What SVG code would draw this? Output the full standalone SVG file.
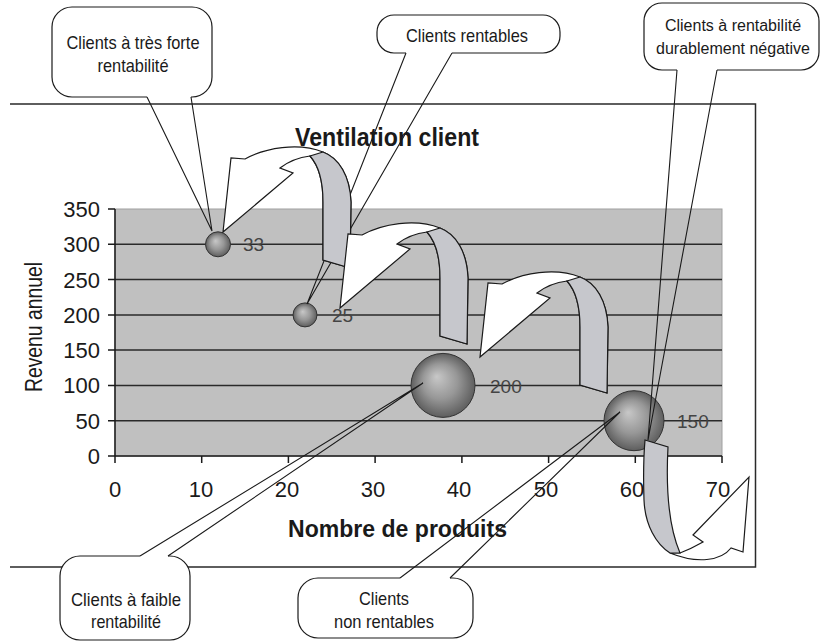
<svg xmlns="http://www.w3.org/2000/svg" width="823" height="644" viewBox="0 0 823 644">
  <style>
    text { font-family: "Liberation Sans", Arial, sans-serif; fill: #1a1a1a; }
    .narrow { font-family: "Liberation Sans Narrow", "Liberation Sans", Arial, sans-serif; }
    .frame { fill: none; stroke: #2a2a2a; stroke-width: 1.5; }
    .grid { stroke: #2a2a2a; stroke-width: 1.5; }
    .axis { fill: none; stroke: #1a1a1a; stroke-width: 1.5; }
    .num { font-size: 22px; }
    .ylab { text-anchor: end; }
    .xlab { text-anchor: middle; }
    .val { font-size: 19px; fill: #444; }
    .box { fill: #fff; stroke: #1a1a1a; stroke-width: 1.2; }
    .wedge { fill: none; stroke: #1a1a1a; stroke-width: 1.1; }
    .ctext { font-size: 19px; text-anchor: middle; }
    .bubble { fill: url(#sphere); stroke: #333; stroke-width: 1; }
    .front { fill: #fff; stroke: #1a1a1a; stroke-width: 1.2; }
    .back { fill: #c6c7cc; stroke: #1a1a1a; stroke-width: 1.2; }
  </style>
  <defs>
    <radialGradient id="sphere" cx="0.5" cy="0.5" r="0.5" fx="0.4" fy="0.36">
      <stop offset="0" stop-color="#c8c8c8"/>
      <stop offset="0.55" stop-color="#979797"/>
      <stop offset="1" stop-color="#5e5e5e"/>
    </radialGradient>
    <!-- twisted ribbon arrow, origin at the arrow tip -->
    <g id="curl">
      <path class="front" d="M0,0 L8,-74 L22,-73 C42,-84 75,-90 100,-80 C116,-74 127,-56 128,-30 L127,36 L100,28 L100,-30 C100,-48 96,-66 87,-76 Q70,-74 57,-64 L70,-59 Z"/>
      <path class="back" d="M100,-80 L87,-76 C96,-66 100,-48 100,-30 L100,28 L127,36 L128,-30 C127,-56 116,-74 100,-80 Z"/>
    </g>
  </defs>

  <!-- chart frame -->
  <path class="frame" d="M10,104 H755.5 V567 H10"/>

  <!-- plot area -->
  <g id="plot">
    <rect x="115" y="209" width="607" height="247" fill="#c0c0c0" stroke="#a0a0a0" stroke-width="1"/>
    <g class="grid">
      <line x1="115" y1="244.3" x2="722" y2="244.3"/>
      <line x1="115" y1="279.6" x2="722" y2="279.6"/>
      <line x1="115" y1="314.9" x2="722" y2="314.9"/>
      <line x1="115" y1="350.1" x2="722" y2="350.1"/>
      <line x1="115" y1="385.4" x2="722" y2="385.4"/>
      <line x1="115" y1="420.7" x2="722" y2="420.7"/>
    </g>
    <path class="axis" d="M115,209 V456 H722
      M108,209 H115 M108,244.3 H115 M108,279.6 H115 M108,314.9 H115 M108,350.1 H115 M108,385.4 H115 M108,420.7 H115 M108,456 H115
      M115,456 V463 M201.7,456 V463 M288.4,456 V463 M375.1,456 V463 M461.9,456 V463 M548.6,456 V463 M635.3,456 V463 M722,456 V463"/>
    <g class="num ylab">
      <text x="100" y="217">350</text>
      <text x="100" y="252">300</text>
      <text x="100" y="288">250</text>
      <text x="100" y="323">200</text>
      <text x="100" y="358">150</text>
      <text x="100" y="393">100</text>
      <text x="100" y="429">50</text>
      <text x="100" y="464">0</text>
    </g>
    <g class="num xlab">
      <text x="115" y="497">0</text>
      <text x="201" y="497">10</text>
      <text x="287" y="497">20</text>
      <text x="373" y="497">30</text>
      <text x="459" y="497">40</text>
      <text x="546" y="497">50</text>
      <text x="632" y="497">60</text>
      <text x="718" y="497">70</text>
    </g>
    <text class="narrow" x="387" y="146" font-size="25" font-weight="bold" text-anchor="middle" textLength="184" lengthAdjust="spacingAndGlyphs">Ventilation client</text>
    <text class="narrow" x="397.5" y="537" font-size="23.5" font-weight="bold" text-anchor="middle" textLength="219" lengthAdjust="spacingAndGlyphs">Nombre de produits</text>
    <text class="narrow" transform="translate(41.5,327) rotate(-90)" font-size="23" text-anchor="middle" textLength="130" lengthAdjust="spacingAndGlyphs">Revenu annuel</text>
  </g>

  <!-- client segments -->
  <g id="bubble-33">
    <circle class="bubble" cx="218" cy="244.3" r="12.5"/>
    <text class="val" x="243" y="251">33</text>
  </g>
  <g id="bubble-25">
    <circle class="bubble" cx="305" cy="314.9" r="12"/>
    <text class="val" x="332" y="322">25</text>
  </g>
  <g id="bubble-200">
    <circle class="bubble" cx="443" cy="385.4" r="32"/>
    <text class="val" x="490" y="393">200</text>
  </g>
  <g id="bubble-150">
    <circle class="bubble" cx="634" cy="420.7" r="30"/>
    <text class="val" x="677" y="428">150</text>
  </g>

  <!-- callouts -->
  <g id="callout-tres-forte">
    <path class="box" d="M191,97 H192 A20,20 0 0 0 212,77 V27 A20,20 0 0 0 192,7 H72 A20,20 0 0 0 52,27 V77 A20,20 0 0 0 72,97 H147"/>
    <path class="wedge" d="M147,97 L212,231 L191,97"/>
    <text class="narrow ctext" x="133" y="49" textLength="133" lengthAdjust="spacingAndGlyphs">Clients à très forte</text>
    <text class="narrow ctext" x="133" y="72" textLength="71" lengthAdjust="spacingAndGlyphs">rentabilité</text>
  </g>
  <g id="callout-rentables">
    <path class="box" d="M452,53 H543 A17,17 0 0 0 560,36 V32 A17,17 0 0 0 543,15 H394 A17,17 0 0 0 377,32 V36 A17,17 0 0 0 394,53 H406"/>
    <path class="wedge" d="M406,53 L307,304 L452,53"/>
    <text class="narrow ctext" x="467" y="41.5" textLength="122" lengthAdjust="spacingAndGlyphs">Clients rentables</text>
  </g>
  <g id="callout-negative">
    <path class="box" d="M717,70 H801 A18,18 0 0 0 819,52 V21 A18,18 0 0 0 801,3 H662 A18,18 0 0 0 644,21 V52 A18,18 0 0 0 662,70 H677"/>
    <path class="wedge" d="M677,70 L648,440 L717,70"/>
    <text x="733" y="31" font-size="16" text-anchor="middle">Clients à rentabilité</text>
    <text x="733" y="54" font-size="16" text-anchor="middle">durablement négative</text>
  </g>
  <g id="callout-faible">
    <path class="box" d="M168,556 H170 A20,20 0 0 1 190,576 V620 A20,20 0 0 1 170,640 H80 A20,20 0 0 1 60,620 V576 A20,20 0 0 1 80,556 H140"/>
    <path class="wedge" d="M140,556 L423,383 L168,556"/>
    <text class="narrow ctext" x="126" y="606" textLength="110" lengthAdjust="spacingAndGlyphs">Clients à faible</text>
    <text class="narrow ctext" x="126" y="628" textLength="70" lengthAdjust="spacingAndGlyphs">rentabilité</text>
  </g>
  <g id="callout-non-rentables">
    <path class="box" d="M450,578 H453 A20,20 0 0 1 473,598 V618 A20,20 0 0 1 453,638 H318 A20,20 0 0 1 298,618 V598 A20,20 0 0 1 318,578 H400"/>
    <path class="wedge" d="M400,578 L620,412 L450,578"/>
    <text class="narrow ctext" x="384" y="605" textLength="50" lengthAdjust="spacingAndGlyphs">Clients</text>
    <text class="narrow ctext" x="384" y="628" textLength="100" lengthAdjust="spacingAndGlyphs">non rentables</text>
  </g>

  <!-- migration arrows between segments -->
  <g id="connectors">
    <use href="#curl" x="223" y="232"/>
    <use href="#curl" x="340" y="308"/>
    <use href="#curl" x="480" y="357"/>
    <g id="exit-arrow">
      <path class="front" d="M749,477 L743,552 L731,548 C721,561 697,564 670,553 L680,553 C688,550 696,546 703,542 L693,535 Z"/>
      <path class="back" d="M645,440 L668,447 C666,485 668,525 680,553 L670,553 C656,544 645,525 644,500 C643,470 644,452 645,440 Z"/>
    </g>
  </g>
</svg>
